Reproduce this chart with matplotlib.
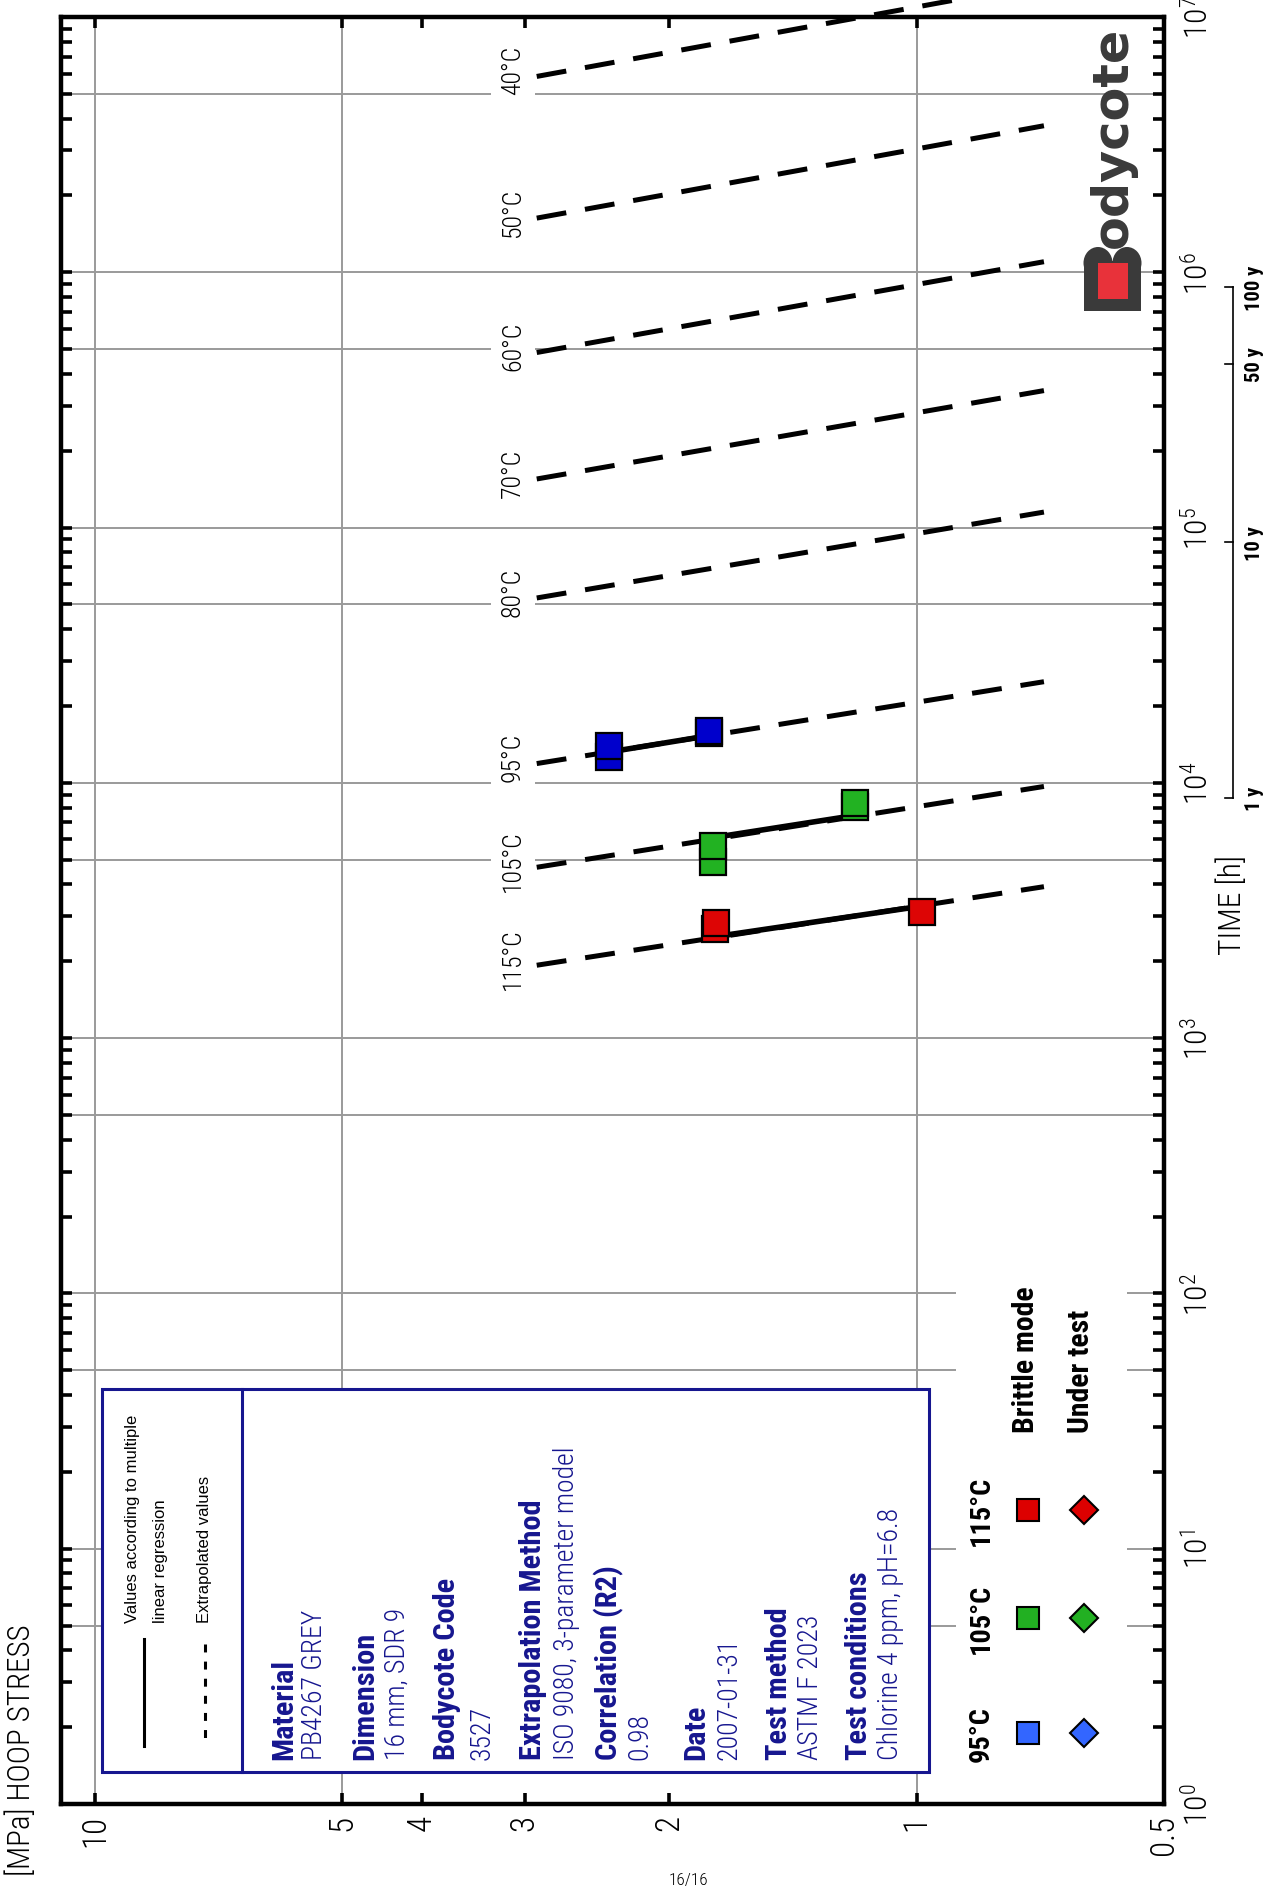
import matplotlib
matplotlib.use("Agg")
import matplotlib.pyplot as plt
from matplotlib import font_manager as fm
from matplotlib.patches import Rectangle, Ellipse
from matplotlib.lines import Line2D
from matplotlib.ticker import LogLocator, NullLocator, NullFormatter, FixedLocator
from matplotlib.transforms import blended_transform_factory

W, H = 1272, 1890

# ---- values ----
temp_labels = ["40°C", "50°C", "60°C", "70°C", "80°C", "95°C", "105°C", "115°C"]
extrap_stress = [2.9, 0.7]   # MPa, start / end of each dashed line
extrap_t_start = [5.85e6, 1.63e6, 4.85e5, 1.55e5, 5.3e4, 1.19e4, 4670, 1930]
extrap_t_end = [1.35e7, 3.75e6, 1.10e6, 3.44e5, 1.15e5, 2.49e4, 9680, 3920]

reg_stress = [[2.37, 1.79], [1.77, 1.19], [1.755, 0.986]]
reg_time = [[13200, 15300], [6100, 7450], [2500, 3290]]

pt_stress = [[2.37, 2.37, 1.79, 1.79], [1.77, 1.77, 1.19, 1.19], [1.76, 1.755, 0.986]]
pt_time = [[12600, 14000, 15700, 16000], [4900, 5650, 8050, 8350], [2680, 2830, 3120]]
pt_colors = ["#0000cc", "#22b222", "#dd0505"]

stress_ticks = [10, 5, 4, 3, 2, 1, 0.5]
stress_ticklabels = ["10", "5", "4", "3", "2", "1", "0.5"]
grid_stress = [10, 5, 1]
time_decades = list(range(0, 8))

years = [1, 10, 50, 100]
HOURS_PER_YEAR = 8760

info_head = ["Material", "Dimension", "Bodycote Code", "Extrapolation Method",
             "Correlation (R2)", "Date", "Test method", "Test conditions"]
info_value = ["PB4267 GREY", "16 mm, SDR 9", "3527", "ISO 9080, 3-parameter model",
              "0.98", "2007-01-31", "ASTM F 2023", "Chlorine 4 ppm, pH=6.8"]
info_head_x = [284, 365, 447, 533, 609, 696, 779, 859]
info_value_x = [315, 397, 482, 566, 640, 729, 811, 890]

leg_temps = ["95°C", "105°C", "115°C"]
leg_colors = ["#3366ff", "#22b022", "#dd0000"]
leg_y = [1734, 1619, 1511]

# ---- fonts: prefer a narrow face, the original uses a condensed grotesque ----
fonts = fm.fontManager.ttflist
names = {f.name for f in fonts}
STRETCH = "normal"
if "Liberation Sans Narrow" in names:
    COND, k = "Liberation Sans Narrow", 1.0
elif "Roboto Condensed" in names:
    COND, k = "Roboto Condensed", 0.95
elif any(f.name == "DejaVu Sans" and "condensed" in str(f.stretch) for f in fonts):
    COND, k, STRETCH = "DejaVu Sans", 0.83, "condensed"
else:
    COND, k = "DejaVu Sans", 0.745
plt.rcParams["font.family"] = [COND, "DejaVu Sans"]
plt.rcParams["font.stretch"] = STRETCH
plt.rcParams["font.weight"] = "light"
plt.rcParams["mathtext.fontset"] = "custom"
plt.rcParams["mathtext.rm"] = COND + ":light"
plt.rcParams["mathtext.it"] = COND + ":light"
plt.rcParams["mathtext.bf"] = COND + ":bold"
NAVY = "#16168f"
GRID = "#9a9a9a"


def fx(x):
    return x / W


def fy(y):
    return 1 - y / H


fig = plt.figure(figsize=(W / 100, H / 100), dpi=100)
ax_l, ax_r, ax_t, ax_b = 61, 1164, 18, 1805
ax = fig.add_axes([fx(ax_l), fy(ax_b), (ax_r - ax_l) / W, (ax_b - ax_t) / H])
ax.set_xscale("log")
ax.set_yscale("log")
ax.set_xlim(11.0, 0.5)
ax.set_ylim(1, 1e7)

# grid (only at 1 and 5 of each decade)
for s in grid_stress:
    ax.axvline(s, color=GRID, lw=1.4, zorder=0.5)
for e in range(0, 7):
    for m in (1, 5):
        t = m * 10.0 ** e
        if t > 1:
            ax.axhline(t, color=GRID, lw=1.4, zorder=0.5)

# ticks
ax.xaxis.set_major_locator(FixedLocator(stress_ticks))
ax.xaxis.set_minor_locator(NullLocator())
ax.xaxis.set_minor_formatter(NullFormatter())
ax.set_xticklabels(stress_ticklabels)
ax.yaxis.set_major_locator(FixedLocator([10.0 ** e for e in time_decades]))
ax.yaxis.set_minor_locator(LogLocator(base=10, subs=range(2, 10), numticks=30))
ax.yaxis.set_minor_formatter(NullFormatter())
ax.set_yticklabels([f"$10^{{{e}}}$" for e in time_decades])
ax.tick_params(axis="both", which="both", direction="in", length=8, width=2.6,
               top=True, bottom=True, left=True, right=True)
ax.tick_params(axis="x", labelsize=25 * k, pad=7)
ax.tick_params(axis="y", labelleft=False, labelright=True, labelsize=24 * k, pad=13)
plt.setp(ax.get_xticklabels(), rotation=90, va="top", ha="center")
plt.setp(ax.get_yticklabels(), rotation=90, va="center", ha="left")
for sp in ax.spines.values():
    sp.set_linewidth(3.2)

# extrapolated (dashed) lines + temperature labels (label sits a touch above the start)
for lab, t0, t1 in zip(temp_labels, extrap_t_start, extrap_t_end):
    ax.plot(extrap_stress, [t0, t1], color="black", lw=3.6, ls=(0, (6.0, 3.8)),
            solid_capstyle="butt", dash_capstyle="butt", zorder=2, clip_on=False)
    ax.text(3.1, t0 * 1.065, lab, rotation=90, ha="center", va="center",
            fontsize=19.5 * k, zorder=3,
            bbox=dict(facecolor="white", edgecolor="none", pad=7))

# regression (solid) lines and points
for s, t, ps, pt, c in zip(reg_stress, reg_time, pt_stress, pt_time, pt_colors):
    ax.plot(s, t, color="black", lw=4.0, solid_capstyle="butt", zorder=4)
    for xs, ys in zip(ps, pt):
        ax.plot([xs], [ys], ls="none", marker="s", ms=18.5, mfc=c, mec="black",
                mew=1.6, zorder=5)

# axis titles
fig.text(fx(1232), fy(905), "TIME [h]", rotation=90, ha="center", va="center",
         fontsize=24 * k)
fig.text(fx(21), fy(1750), "[MPa] HOOP STRESS", rotation=90, ha="center",
         va="center", fontsize=23.5 * k)
fig.text(fx(688), fy(1888), "16/16", ha="center", va="bottom", fontsize=13 * k)

# service-life scale in years
ytrans = blended_transform_factory(fig.transFigure, ax.transData)
yr_t = [y * HOURS_PER_YEAR for y in years]
ax.plot([fx(1233), fx(1233)], [yr_t[0], yr_t[-1]], color="black", lw=1.2,
        transform=ytrans, clip_on=False)
for y, t in zip(years, yr_t):
    ax.plot([fx(1225), fx(1233)], [t, t], color="black", lw=1.2,
            transform=ytrans, clip_on=False)
    ax.text(fx(1254), t, f"{y} y", rotation=90, ha="center", va="center",
            fontsize=15.5 * k, fontweight="bold", transform=ytrans)

# info / legend box
fig.add_artist(Rectangle((fx(102), fy(1773)), (929 - 102) / W, (1773 - 1390) / H,
                         transform=fig.transFigure, facecolor="white",
                         edgecolor=NAVY, lw=2.2, zorder=6))
fig.add_artist(Line2D([fx(242), fx(242)], [fy(1390), fy(1773)],
                      transform=fig.transFigure, color=NAVY, lw=2.2, zorder=7))
fig.add_artist(Line2D([fx(144), fx(144)], [fy(1640), fy(1747)],
                      transform=fig.transFigure, color="black", lw=2.2, zorder=7))
fig.add_artist(Line2D([fx(205), fx(205)], [fy(1645), fy(1747)],
                      transform=fig.transFigure, color="black", lw=2.2,
                      ls=(0, (2.6, 3.0)), zorder=7))
small = dict(rotation=90, ha="center", va="bottom", fontsize=12, stretch="normal",
             weight="normal", family=["Liberation Sans", "DejaVu Sans"], zorder=7)
fig.text(fx(133), fy(1623), "Values according to multiple", **small)
fig.text(fx(160), fy(1623), "linear regression", **small)
fig.text(fx(204), fy(1623), "Extrapolated values", **small)
for hd, val, hx, vx in zip(info_head, info_value, info_head_x, info_value_x):
    fig.text(fx(hx), fy(1760), hd, rotation=90, ha="center", va="bottom",
             fontsize=23 * k, fontweight="bold", color=NAVY, zorder=7)
    fig.text(fx(vx), fy(1760), val, rotation=90, ha="center", va="bottom",
             fontsize=21 * k, color=NAVY, zorder=7)

# marker legend (white panel inside the plot)
fig.add_artist(Rectangle((fx(956), fy(1800)), (1127 - 956) / W, (1800 - 1272) / H,
                         transform=fig.transFigure, facecolor="white",
                         edgecolor="none", zorder=5))
for lab, c, y in zip(leg_temps, leg_colors, leg_y):
    fig.text(fx(981), fy(y), lab, rotation=90, ha="center", va="center",
             fontsize=21.5 * k, fontweight="bold", zorder=7)
    fig.add_artist(Line2D([fx(1028)], [fy(y)], transform=fig.transFigure, ls="none",
                          marker="s", ms=16.5, mfc=c, mec="black", mew=1.5, zorder=7))
    fig.add_artist(Line2D([fx(1084)], [fy(y)], transform=fig.transFigure, ls="none",
                          marker="D", ms=14, mfc=c, mec="black", mew=1.5, zorder=7))
fig.text(fx(1026), fy(1433), "Brittle mode", rotation=90, ha="center", va="bottom",
         fontsize=22.5 * k, fontweight="bold", zorder=7)
fig.text(fx(1081), fy(1433), "Under test", rotation=90, ha="center", va="bottom",
         fontsize=22.5 * k, fontweight="bold", zorder=7)

# Bodycote logo
LOGO = "#3a3a3a"
fig.add_artist(Rectangle((fx(1084), fy(312)), 57 / W, 50 / H,
                         transform=fig.transFigure, facecolor=LOGO, edgecolor="none",
                         zorder=7))
for cx in (1098, 1127):
    fig.add_artist(Ellipse((fx(cx), fy(264)), 29 / W, 32 / H,
                           transform=fig.transFigure, facecolor=LOGO,
                           edgecolor="none", zorder=7))
fig.add_artist(Rectangle((fx(1098), fy(300)), 30 / W, 36 / H,
                         transform=fig.transFigure, facecolor="#e8323a",
                         edgecolor="none", zorder=8))
fig.text(fx(1113), fy(248), "odycote", rotation=90, ha="center", va="bottom",
         fontsize=35.5, fontweight="heavy", family="DejaVu Sans", stretch="normal",
         color=LOGO, zorder=7)

fig.savefig("out.png", dpi=100)
